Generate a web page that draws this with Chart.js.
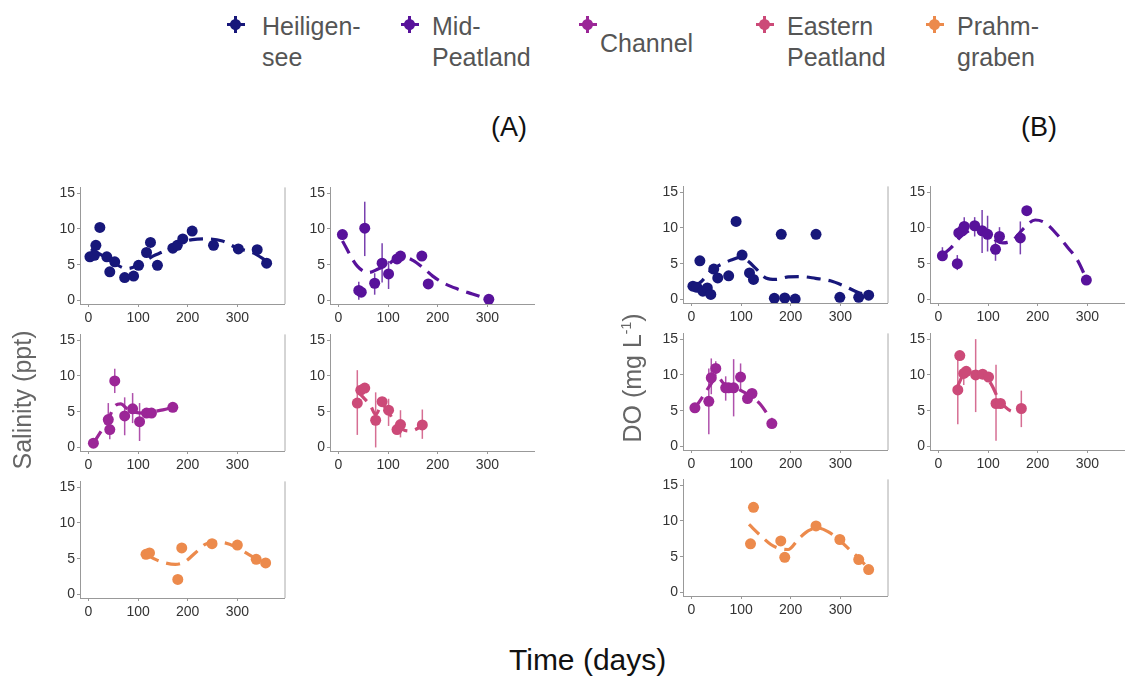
<!DOCTYPE html>
<html>
<head>
<meta charset="utf-8">
<script src="https://cdn.jsdelivr.net/npm/chart.js@4.4.1/dist/chart.umd.min.js"></script>
<style>
  body { margin:0; width:1125px; height:679px; background:#fff; position:relative; overflow:hidden;
         font-family:"Liberation Sans", Arial, sans-serif; }
  canvas.panel { position:absolute; }
  .txt { position:absolute; white-space:nowrap; }
  .legTxt { position:absolute; font-size:25px; line-height:31px; color:#555; }
  .key { position:absolute; width:20px; height:18px; }
  .key i { position:absolute; display:block; }
</style>
</head>
<body>
<script>
const xTicks = [0, 100, 200, 300];
const yTicks = [0, 5, 10, 15];
const siteNames = [['Heiligen-', 'see'], ['Mid-', 'Peatland'], ['Channel'], ['Eastern', 'Peatland'], ['Prahm-', 'graben']];
const siteColors = ['#17177a', '#58129b', '#9b2697', '#cc4a78', '#ec8a4c'];

// points: [day, mean, low, high]  (low/high only where an error bar is drawn)
const salHeiligensee = [[3,6.1],[12,6.3],[15,7.7],[23,10.2],[37,6.1],[43,4.0],[53,5.4],[73,3.2],[91,3.4],[101,4.9],
  [117,6.7],[125,8.1],[139,4.9],[170,7.3],[179,7.7],[190,8.6],[209,9.7],[252,7.7],[302,7.2],[340,7.1],[359,5.2]];
const salMidPeatland = [[8,9.2],[41,1.4,0.1,2.6],[46,1.15],[53,10.1,6.2,13.8],[73,2.4,0.8,3.8],[88,5.2,2.5,8.0],
  [101,3.7,1.6,5.5],[118,5.8],[125,6.2,5.5,6.9],[168,6.2,5.5,6.9],[181,2.3],[303,0.15]];
const salChannel = [[10,0.6],[40,3.9,3.0,6.2],[43,2.5,1.15,3.2],[53,9.3,7.6,11.0],[73,4.4,1.7,7.0],[89,5.4,3.4,7.6],
  [103,3.6,0.9,6.2],[117,4.8],[127,4.8],[170,5.6]];
const salEastern = [[38,6.2,1.75,10.8],[45,8.0],[53,8.3],[75,3.8,0.0,7.7],[88,6.4],[101,5.2,3.0,6.8],[118,2.5],
  [125,3.2,1.4,5.2],[169,3.15,1.2,5.3]];
const salPrahmgraben = [[116,5.6],[123,5.8],[180,2.1],[188,6.5],[249,7.1],[300,6.9],[338,4.9],[357,4.4]];

const doHeiligensee = [[3,1.85],[11,1.7],[17,5.4],[23,1.15],[32,1.6],[39,0.7],[45,4.25],[53,3.0],[75,3.3],[90,10.9],
  [102,6.2],[117,3.7],[125,2.8],[167,0.15],[181,9.1],[188,0.2],[209,0.05],[251,9.1],[299,0.3],[337,0.3],[357,0.6]];
const doMidPeatland = [[8,6.1,5.4,7.3],[38,5.0,4.1,6.2],[41,9.3],[48,9.6],[52,10.2,9.2,11.5],[73,10.3,8.8,11.5],
  [88,9.6,6.5,12.5],[99,9.1,6.7,11.7],[115,7.0,5.4,8.5],[123,8.8,7.9,10.1],[165,8.6,6.3,10.9],[178,12.4],[298,2.7]];
const doChannel = [[7,5.4],[35,6.3,1.7,10.9],[40,9.6,7.3,12.3],[49,10.9,9.8,11.9],[69,8.2,6.4,9.8],[75,8.2],
  [85,8.2,4.2,12.2],[99,9.7,7.7,11.6],[113,6.7],[122,7.4],[162,3.2,2.7,4.0]];
const doEastern = [[39,7.9,3.1,13.2],[43,12.7],[51,10.2,8.6,11.1],[56,10.5],[75,10.0,4.8,15.0],[89,10.1],[101,9.7],
  [116,6.0,0.8,11.4],[125,6.0],[167,5.3,2.7,7.8]];
const doPrahmgraben = [[119,6.8],[125,11.9],[180,7.2],[188,4.9],[251,9.3],[299,7.4],[337,4.6],[357,3.2]];

// dashed smooth curves: [day, value]
const salHeiligenseeFit = [[5,7.2],[25,6.4],[50,5.3],[77,4.45],[100,4.9],[130,6.2],[150,6.8],[180,7.9],[210,8.5],[240,8.6],[270,8.3],[300,7.3],[330,6.7],[360,5.5]];
const salMidPeatlandFit = [[8,8.3],[38,4.8],[61,3.9],[80,4.4],[100,5.0],[120,6.0],[135,6.0],[150,5.6],[170,4.6],[190,3.4],[210,2.5],[240,1.6],[270,0.9],[300,0.2]];
const salChannelFit = [[10,0.6],[25,2.2],[40,3.9],[52,5.7],[65,6.1],[78,5.4],[90,5.0],[110,4.8],[130,5.0],[150,5.25],[170,5.6]];
const salEasternFit = [[38,7.9],[50,7.0],[65,5.8],[75,4.6],[88,6.0],[100,5.0],[115,3.4],[130,2.5],[145,2.3],[169,3.0]];
const salPrahmgrabenFit = [[116,5.6],[135,4.9],[155,4.4],[175,4.2],[195,4.6],[215,5.8],[235,7.0],[255,7.3],[275,7.2],[295,6.7],[315,5.9],[340,4.9],[357,4.4]];

const doHeiligenseeFit = [[3,1.7],[20,2.5],[40,4.1],[60,4.9],[80,5.5],[100,5.9],[115,5.3],[130,4.3],[150,3.0],[170,2.8],[195,3.15],[220,3.2],[250,2.95],[280,2.6],[310,1.8],[335,1.0],[357,0.6]];
const doMidPeatlandFit = [[8,6.2],[25,7.2],[45,8.8],[65,9.7],[85,9.9],[100,9.3],[115,8.3],[130,7.9],[150,8.3],[170,9.8],[195,11.1],[215,10.7],[240,9.0],[260,7.3],[280,5.5],[298,2.9]];
const doChannelFit = [[7,5.3],[25,7.2],[40,8.8],[52,9.8],[65,8.8],[85,8.4],[100,7.8],[120,7.0],[140,5.8],[162,3.5]];
const doEasternFit = [[39,8.5],[55,10.4],[75,10.3],[95,9.8],[108,8.5],[120,6.8],[135,5.5],[150,4.9],[167,5.2]];
const doPrahmgrabenFit = [[116,9.5],[140,7.9],[160,6.7],[180,6.1],[195,6.0],[215,7.4],[235,8.6],[255,9.0],[275,8.5],[300,7.2],[320,5.9],[340,4.6],[357,3.3]];

// layout
const AREA_W = 206, AREA_H = 119, Y_AXIS_W = 30, X_AXIS_H = 24, PAD_T = 8, PAD_R = 4;

const errorBars = {
  id: 'errorBars',
  beforeDatasetsDraw(chart) {
    const ds = chart.data.datasets[1];
    const xs = chart.scales.x, ys = chart.scales.y, ctx = chart.ctx;
    ctx.save();
    ctx.strokeStyle = ds.borderColor;
    ctx.globalAlpha = 0.8;
    ctx.lineWidth = 1.5;
    ds.data.forEach(p => {
      if (p.lo == null) return;
      const px = xs.getPixelForValue(p.x);
      ctx.beginPath();
      ctx.moveTo(px, ys.getPixelForValue(p.lo));
      ctx.lineTo(px, ys.getPixelForValue(p.hi));
      ctx.stroke();
    });
    ctx.restore();
  }
};

const rightBorder = {
  id: 'rightBorder',
  afterDraw(chart, args, opts) {
    if (!opts.show) return;
    const a = chart.chartArea, ctx = chart.ctx;
    ctx.save();
    ctx.strokeStyle = '#aaa';
    ctx.lineWidth = 1;
    ctx.beginPath();
    ctx.moveTo(a.right + 0.5, a.top);
    ctx.lineTo(a.right + 0.5, a.bottom);
    ctx.stroke();
    ctx.restore();
  }
};

function makePanel(left, top, points, fit, color, showRight) {
  const cv = document.createElement('canvas');
  cv.className = 'panel';
  cv.width = Y_AXIS_W + AREA_W + PAD_R;
  cv.height = PAD_T + AREA_H + X_AXIS_H;
  cv.style.left = (left - Y_AXIS_W) + 'px';
  cv.style.top = (top - PAD_T) + 'px';
  document.body.appendChild(cv);

  const axisGrid = { display: true, drawOnChartArea: false, drawTicks: true, tickLength: 3, color: '#999' };
  const tickFont = { size: 14, family: 'Liberation Sans' };
  new Chart(cv, {
    type: 'scatter',
    data: {
      datasets: [
        {
          type: 'line',
          data: fit.map(p => ({ x: p[0], y: p[1] })),
          borderColor: color,
          borderWidth: 3.2,
          borderDash: [14, 8],
          pointRadius: 0,
          cubicInterpolationMode: 'monotone',
          fill: false,
          order: 2
        },
        {
          data: points.map(p => ({ x: p[0], y: p[1], lo: p[2], hi: p[3] })),
          backgroundColor: color,
          borderColor: color,
          pointRadius: 5.5,
          pointBorderWidth: 0,
          order: 1
        }
      ]
    },
    options: {
      responsive: false,
      animation: false,
      devicePixelRatio: 1,
      layout: { padding: { top: PAD_T, right: PAD_R, left: 0, bottom: 0 } },
      plugins: { legend: { display: false }, tooltip: { enabled: false }, rightBorder: { show: showRight } },
      scales: {
        x: {
          type: 'linear', min: -17, max: 395,
          afterBuildTicks: s => { s.ticks = xTicks.map(v => ({ value: v })); },
          afterFit: s => { s.height = X_AXIS_H; },
          ticks: { color: '#333', font: tickFont, padding: 3, maxRotation: 0 },
          grid: axisGrid,
          border: { color: '#999' }
        },
        y: {
          min: -0.5, max: 15.8,
          afterBuildTicks: s => { s.ticks = yTicks.map(v => ({ value: v })); },
          afterFit: s => { s.width = Y_AXIS_W; },
          ticks: { color: '#333', font: tickFont, padding: 2 },
          grid: axisGrid,
          border: { color: '#999' }
        }
      }
    },
    plugins: [errorBars, rightBorder]
  });
}

const salPanels = [
  [80, 185, salHeiligensee, salHeiligenseeFit, 0, true],
  [330, 185, salMidPeatland, salMidPeatlandFit, 1, false],
  [80, 332, salChannel, salChannelFit, 2, true],
  [330, 332, salEastern, salEasternFit, 3, false],
  [80, 479, salPrahmgraben, salPrahmgrabenFit, 4, true]
];
const doPanels = [
  [683, 184, doHeiligensee, doHeiligenseeFit, 0, true],
  [930, 184, doMidPeatland, doMidPeatlandFit, 1, false],
  [683, 331, doChannel, doChannelFit, 2, true],
  [930, 331, doEastern, doEasternFit, 3, false],
  [683, 477, doPrahmgraben, doPrahmgrabenFit, 4, true]
];
salPanels.concat(doPanels).forEach(p => makePanel(p[0], p[1], p[2], p[3], siteColors[p[4]], p[5]));

// legend
const legendKeys = [[236, 262], [410, 432], [588, 600], [765, 787], [935, 957]];
siteNames.forEach((lines, i) => {
  const key = document.createElement('div');
  key.className = 'key';
  key.style.left = (legendKeys[i][0] - 10) + 'px';
  key.style.top = '15px';
  const c = siteColors[i];
  key.innerHTML =
    `<i style="left:1px;top:8px;width:18px;height:3px;background:${c}"></i>` +
    `<i style="left:8px;top:1px;width:3px;height:17px;background:${c}"></i>` +
    `<i style="left:4px;top:4px;width:11px;height:11px;border-radius:50%;background:${c}"></i>`;
  document.body.appendChild(key);
  const t = document.createElement('div');
  t.className = 'legTxt';
  t.style.left = legendKeys[i][1] + 'px';
  t.style.top = (lines.length === 1 ? 28 : 11) + 'px';
  t.innerHTML = lines.join('<br>');
  document.body.appendChild(t);
});

function addText(html, css) {
  const d = document.createElement('div');
  d.className = 'txt';
  d.innerHTML = html;
  Object.assign(d.style, css);
  document.body.appendChild(d);
}
addText('(A)', { left: '491px', top: '112px', fontSize: '27px', color: '#111' });
addText('(B)', { left: '1021px', top: '112px', fontSize: '27px', color: '#111' });
addText('Time (days)', { left: '509px', top: '643px', fontSize: '30px', color: '#111' });
addText('Salinity (ppt)', { left: '22px', top: '400px', fontSize: '25px', color: '#666',
  transform: 'translate(-50%,-50%) rotate(-90deg)' });
addText('DO (mg L<sup style="font-size:14px">-1</sup>)', { left: '632px', top: '378px', fontSize: '25px', color: '#666',
  transform: 'translate(-50%,-50%) rotate(-90deg)' });
</script>
</body>
</html>
